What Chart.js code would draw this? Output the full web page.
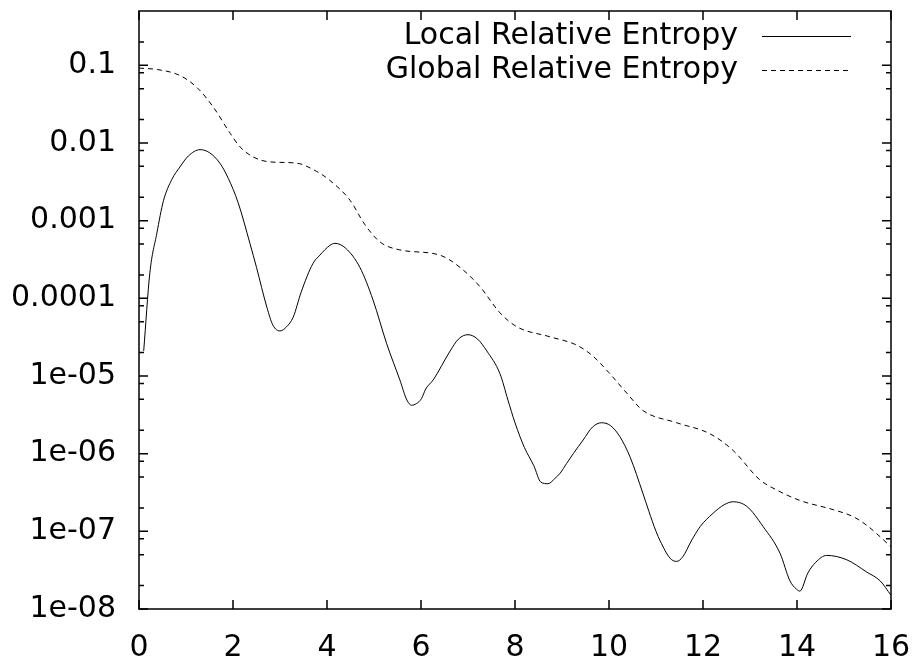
<!DOCTYPE html>
<html>
<head>
<meta charset="utf-8">
<script src="https://cdn.jsdelivr.net/npm/chart.js@4.4.0/dist/chart.umd.min.js"></script>
<style>
  html, body { margin: 0; padding: 0; background: #fff; }
</style>
</head>
<body>
<canvas id="entropyChart" width="921" height="658"></canvas>
<script>
// --- datos ---
const seriesNames = ['Local Relative Entropy', 'Global Relative Entropy'];

const localX = [0.1, 0.23, 0.38, 0.52, 0.7, 0.87, 1.05, 1.3, 1.5, 1.72, 1.9, 2.11, 2.36, 2.5, 2.72, 2.85,
  3.0, 3.14, 3.28, 3.45, 3.7, 3.85, 4.06, 4.17, 4.4, 4.7, 4.98, 5.27, 5.55, 5.7, 5.8, 5.9, 6.01, 6.1,
  6.26, 6.62, 6.8, 7.0, 7.2, 7.4, 7.68, 7.85, 8.0, 8.2, 8.4, 8.55, 8.7, 8.85, 8.96, 9.1, 9.24, 9.45,
  9.65, 9.84, 10.03, 10.23, 10.45, 10.72, 10.85, 11.0, 11.09, 11.3, 11.44, 11.57, 11.75, 11.94, 12.21,
  12.45, 12.64, 12.93, 13.28, 13.64, 13.85, 13.99, 14.06, 14.23, 14.4, 14.63, 15.06, 15.48, 15.77, 16.0];
const localY = [2.1e-5, 2.1e-4, 6.9e-4, 1.8e-3, 3.4e-3, 4.9e-3, 6.8e-3, 8.2e-3, 7.5e-3, 5.5e-3, 3.5e-3, 1.7e-3,
  5.1e-4, 2.5e-4, 7.7e-5, 4.5e-5, 3.8e-5, 4.3e-5, 5.7e-5, 1.2e-4, 2.8e-4, 3.6e-4, 4.8e-4, 5.1e-4, 4.4e-4,
  2.5e-4, 9.5e-5, 2.6e-5, 8.9e-6, 4.9e-6, 4.2e-6, 4.4e-6, 5.1e-6, 6.8e-6, 8.9e-6, 2.1e-5, 3.0e-5, 3.4e-5,
  3.0e-5, 2.1e-5, 1.07e-5, 4.9e-6, 2.5e-6, 1.2e-6, 7e-7, 4.3e-7, 4.1e-7, 4.8e-7, 5.6e-7, 7.5e-7, 1.0e-6,
  1.5e-6, 2.2e-6, 2.5e-6, 2.3e-6, 1.66e-6, 9e-7, 3.1e-7, 1.8e-7, 1.0e-7, 7.5e-8, 4.5e-8, 4.1e-8, 4.7e-8,
  7.5e-8, 1.15e-7, 1.7e-7, 2.2e-7, 2.4e-7, 2.1e-7, 1.15e-7, 5.2e-8, 2.3e-8, 1.8e-8, 1.7e-8, 2.9e-8, 4.0e-8,
  4.9e-8, 4.3e-8, 3.0e-8, 2.3e-8, 1.5e-8];

const globalX = [0, 0.4, 0.87, 1.23, 1.58, 1.94, 2.15, 2.43, 2.79, 3.35, 3.78, 4.06, 4.49, 4.8, 5.13, 5.55,
  6.4, 6.83, 7.26, 7.68, 8.04, 8.74, 9.31, 9.66, 10.0, 10.38, 10.72, 11.44, 12.15, 12.64, 13.21, 13.57,
  14.06, 14.77, 15.19, 15.48, 15.77, 16.0];
const globalY = [0.092, 0.088, 0.074, 0.052, 0.029, 0.0133, 0.0089, 0.0066, 0.0057, 0.0055, 0.0043, 0.0033,
  0.00183, 9e-4, 5.3e-4, 4.2e-4, 3.6e-4, 2.5e-4, 1.4e-4, 6.5e-5, 4.3e-5, 3.2e-5, 2.5e-5, 1.8e-5, 1.1e-5,
  6e-6, 3.6e-6, 2.5e-6, 1.8e-6, 1.1e-6, 4.6e-7, 3.4e-7, 2.5e-7, 1.9e-7, 1.55e-7, 1.2e-7, 8.5e-8, 6.3e-8];

const xTicks = [0, 2, 4, 6, 8, 10, 12, 14, 16];
const yTickValues = [1e-8, 1e-7, 1e-6, 1e-5, 1e-4, 1e-3, 1e-2, 1e-1];
const yTickLabels = ['1e-08', '1e-07', '1e-06', '1e-05', '0.0001', '0.001', '0.01', '0.1'];
const yMinorFactors = [2, 5, 8];

const FONT = '"DejaVu Sans", sans-serif';

// --- marco, ticks interiores y leyenda al estilo gnuplot ---
const gnuplotFrame = {
    id: 'gnuplotFrame',
    afterDraw(chart) {
        const { ctx, chartArea: a, scales } = chart;
        const xs = scales.x, ys = scales.y;
        ctx.save();
        ctx.strokeStyle = '#000';
        ctx.lineWidth = 1.5;
        ctx.strokeRect(a.left, a.top, a.right - a.left, a.bottom - a.top);

        ctx.beginPath();
        xTicks.forEach(v => {
            const px = xs.getPixelForValue(v);
            ctx.moveTo(px, a.bottom); ctx.lineTo(px, a.bottom - 9);
            ctx.moveTo(px, a.top); ctx.lineTo(px, a.top + 9);
        });
        yTickValues.forEach(v => {
            const py = ys.getPixelForValue(v);
            ctx.moveTo(a.left, py); ctx.lineTo(a.left + 9, py);
            ctx.moveTo(a.right, py); ctx.lineTo(a.right - 9, py);
        });
        for (let d = -8; d <= -1; d++) {
            yMinorFactors.forEach(m => {
                const v = m * Math.pow(10, d);
                if (v >= ys.max) return;
                const py = ys.getPixelForValue(v);
                ctx.moveTo(a.left, py); ctx.lineTo(a.left + 5, py);
                ctx.moveTo(a.right, py); ctx.lineTo(a.right - 5, py);
            });
        }
        ctx.stroke();

        // leyenda
        ctx.font = '30px ' + FONT;
        ctx.fillStyle = '#000';
        ctx.textAlign = 'right';
        ctx.textBaseline = 'middle';
        const rows = [36, 70];
        chart.data.datasets.forEach((ds, i) => {
            ctx.fillText(ds.label, 738, rows[i]);
            ctx.beginPath();
            ctx.lineWidth = 1;
            ctx.setLineDash(ds.borderDash || []);
            ctx.moveTo(762, rows[i] + 0.5);
            ctx.lineTo(851, rows[i] + 0.5);
            ctx.stroke();
        });
        ctx.restore();
    }
};

const ctx = document.getElementById('entropyChart');
new Chart(ctx, {
    type: 'line',
    data: {
        datasets: [{
            label: seriesNames[0],
            data: localX.map((x, i) => ({ x: x, y: localY[i] })),
            borderColor: '#000',
            borderWidth: 1,
            pointRadius: 0,
            cubicInterpolationMode: 'monotone',
            fill: false
        }, {
            label: seriesNames[1],
            data: globalX.map((x, i) => ({ x: x, y: globalY[i] })),
            borderColor: '#000',
            borderWidth: 1,
            borderDash: [5, 4],
            pointRadius: 0,
            cubicInterpolationMode: 'monotone',
            fill: false
        }]
    },
    options: {
        responsive: false,
        animation: false,
        layout: { padding: { top: 11, right: 30, left: 0, bottom: 0 } },
        plugins: {
            legend: { display: false },
            tooltip: { enabled: false }
        },
        scales: {
            x: {
                type: 'linear',
                min: 0,
                max: 16,
                grid: { display: false, drawTicks: false },
                border: { display: false },
                afterBuildTicks: s => { s.ticks = xTicks.map(v => ({ value: v })); },
                afterFit: s => {
                    s.height = 49;
                    s.paddingLeft = 0; s.paddingRight = 0;
                    s.paddingTop = 0; s.paddingBottom = 0;
                },
                ticks: {
                    color: '#000',
                    font: { family: FONT, size: 30 },
                    padding: 21,
                    maxRotation: 0,
                    autoSkip: false
                }
            },
            y: {
                type: 'logarithmic',
                min: 1e-8,
                max: 0.5,
                grid: { display: false, drawTicks: false },
                border: { display: false },
                afterBuildTicks: s => { s.ticks = yTickValues.map(v => ({ value: v })); },
                afterFit: s => {
                    s.width = 139;
                    s.paddingLeft = 0; s.paddingRight = 0;
                    s.paddingTop = 0; s.paddingBottom = 0;
                },
                ticks: {
                    color: '#000',
                    font: { family: FONT, size: 30 },
                    padding: 23,
                    autoSkip: false,
                    callback: (v) => {
                        const i = yTickValues.findIndex(t => Math.abs(Math.log10(t) - Math.log10(v)) < 1e-6);
                        return i >= 0 ? yTickLabels[i] : '';
                    }
                }
            }
        }
    },
    plugins: [gnuplotFrame]
});
</script>
</body>
</html>
